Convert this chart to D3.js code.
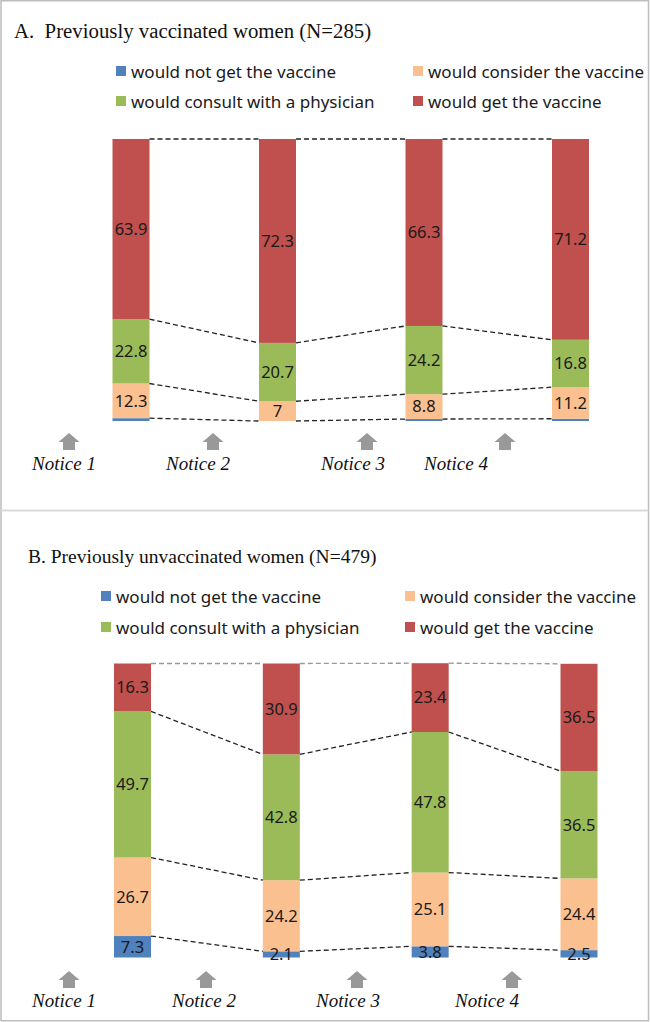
<!DOCTYPE html>
<html><head><meta charset="utf-8">
<script src="https://cdn.jsdelivr.net/npm/d3@7"></script>
<style>body{margin:0;background:#fff}svg{display:block}</style>
</head><body>
<script>
// ---- data ----
const surveys = ["Survey 1","Survey 2","Survey 3","Survey 4"];
const seriesNames = ["would not get the vaccine","would consider the vaccine","would consult with a physician","would get the vaccine"];
const seriesColors = ["#4f81bd","#fac090","#9bbb59","#c0504d"];
const notices = ["Notice 1","Notice 2","Notice 3","Notice 4"];
// Panel A: previously vaccinated women (N=285)
const titleA = "A.  Previously vaccinated women (N=285)";
const notGetA     = [1.0, 0.0, 0.7, 0.8];
const considerA   = [12.3, 7, 8.8, 11.2];
const consultA    = [22.8, 20.7, 24.2, 16.8];
const getA        = [63.9, 72.3, 66.3, 71.2];
// Panel B: previously unvaccinated women (N=479)
const titleB = "B. Previously unvaccinated women (N=479)";
const notGetB     = [7.3, 2.1, 3.8, 2.5];
const considerB   = [26.7, 24.2, 25.1, 24.4];
const consultB    = [49.7, 42.8, 47.8, 36.5];
const getB        = [16.3, 30.9, 23.4, 36.5];

const W = 650, H = 1022;
const svg = d3.select("body").append("svg").attr("width", W).attr("height", H);

// frame
svg.append("rect").attr("x",1).attr("y",0.75).attr("width",647.5).attr("height",1020)
  .attr("fill","none").attr("stroke","#bdbdbd").attr("stroke-width",1.5);
svg.append("line").attr("x1",1).attr("x2",648.5).attr("y1",510.5).attr("y2",510.5)
  .attr("stroke","#d9d9d9").attr("stroke-width",2);

function panel(cfg){
  const g = svg.append("g");
  const values = [cfg.notGet, cfg.consider, cfg.consult, cfg.get];
  const rows = surveys.map((s,i)=>{
    const o = {survey:s};
    seriesNames.forEach((n,k)=>o[n]=values[k][i]);
    return o;
  });
  const stack = d3.stack().keys(seriesNames)(rows);
  const x = d3.scalePoint().domain(surveys).range(cfg.xRange);
  const y = d3.scaleLinear().domain([0,100]).range(cfg.yRange);
  const bw = cfg.barW;

  // title
  g.append("text").attr("x",cfg.titleX).attr("y",cfg.titleY)
    .attr("font-family","'Liberation Serif','Times New Roman',serif").attr("font-size",cfg.titleFont)
    .attr("fill","#111").style("white-space","pre").text(cfg.title);

  // legend
  const legPos = [[0,0],[1,0],[0,1],[1,1]];
  seriesNames.forEach((n,k)=>{
    const [c,r] = legPos[k];
    const lx = cfg.legX[c], ly = cfg.legY[r];
    g.append("rect").attr("x",lx).attr("y",ly-6).attr("width",10).attr("height",10).attr("fill",seriesColors[k]);
    g.append("text").attr("x",lx+15).attr("y",ly).attr("dy","0.35em")
      .attr("font-family","'Noto Sans',sans-serif").attr("font-size",cfg.legFont).attr("fill","#1a1a1a").text(n);
  });

  // bars
  stack.forEach((layer,k)=>{
    g.append("g").selectAll("rect").data(layer).join("rect")
      .attr("x",d=>x(d.data.survey)-bw/2)
      .attr("y",d=>y(d[1]))
      .attr("width",bw)
      .attr("height",d=>Math.max(0,y(d[0])-y(d[1])))
      .attr("fill",seriesColors[k]);
  });

  // connector dashed lines at boundaries (top of each layer)
  stack.forEach((layer,k)=>{
    for(let i=0;i<surveys.length-1;i++){
      const a = layer[i], b = layer[i+1];
      g.append("line")
        .attr("x1",x(surveys[i])+bw/2).attr("y1",y(a[1]))
        .attr("x2",x(surveys[i+1])-bw/2).attr("y2",y(b[1]))
        .attr("stroke",(k===3 && cfg.topGray)?"#999":"#222")
        .attr("stroke-width",1.3).attr("stroke-dasharray","5,3");
    }
  });

  // labels
  stack.forEach((layer,k)=>{
    layer.forEach((d,i)=>{
      const v = values[k][i];
      if(v < cfg.minLabel) return;
      g.append("text").attr("x",x(d.data.survey)).attr("y",(y(d[0])+y(d[1]))/2)
        .attr("dy","0.35em").attr("text-anchor","middle")
        .attr("font-family","'Noto Sans',sans-serif").attr("font-size",16.5).attr("fill","#1a1a1a")
        .text(v);
    });
  });

  // notice arrows and labels
  notices.forEach((n,i)=>{
    const ax = cfg.arrowX[i], ay = cfg.arrowY;
    g.append("path")
      .attr("d",`M${ax},${ay} L${ax+10.5},${ay+9} L${ax+6},${ay+9} L${ax+6},${ay+17} L${ax-6},${ay+17} L${ax-6},${ay+9} L${ax-10.5},${ay+9} Z`)
      .attr("fill","#999");
    g.append("text").attr("x",cfg.noticeX[i]).attr("y",cfg.noticeY).attr("text-anchor","middle")
      .attr("font-family","'Liberation Serif','Times New Roman',serif").attr("font-style","italic")
      .attr("font-size",19).attr("fill","#111").text(n);
  });
}

panel({
  title:titleA, titleX:14, titleY:38, titleFont:20.8,
  notGet:notGetA, consider:considerA, consult:consultA, get:getA,
  xRange:[131,570.5], yRange:[421,139], barW:37,
  legX:[116,413], legY:[72,102], legFont:17,
  topGray:false, minLabel:5,
  arrowX:[69,213,367,505], arrowY:433,
  noticeX:[64,198,353,456], noticeY:470
});
panel({
  title:titleB, titleX:28, titleY:563, titleFont:19.5,
  notGet:notGetB, consider:considerB, consult:consultB, get:getB,
  xRange:[132.5,579], yRange:[957.5,663.5], barW:37,
  legX:[101,405], legY:[597,628], legFont:17,
  topGray:true, minLabel:1,
  arrowX:[69,206,357,512], arrowY:971,
  noticeX:[64,204,348,487], noticeY:1007
});
</script>
</body></html>
